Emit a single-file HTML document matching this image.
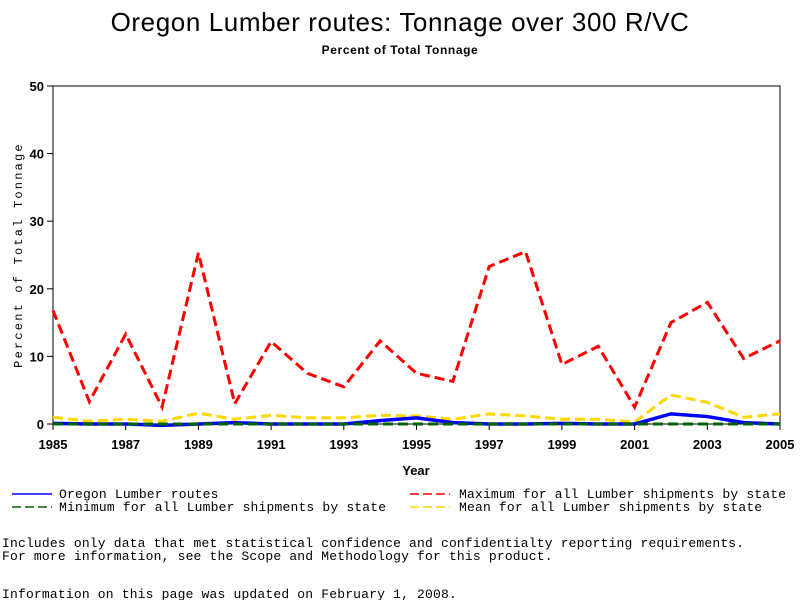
<!DOCTYPE html>
<html><head><meta charset="utf-8"><style>
body{margin:0;background:#fff;width:800px;height:600px;overflow:hidden}
svg text{font-family:"Liberation Sans",sans-serif}
.m{font-family:"Liberation Mono",monospace;letter-spacing:0.18px}
</style></head><body>
<svg id="c" width="800" height="600" xmlns="http://www.w3.org/2000/svg">
<text x="400" y="31" font-size="26" text-anchor="middle" letter-spacing="0.6">Oregon Lumber routes: Tonnage over 300 R/VC</text>
<text x="400" y="54" font-size="12" font-weight="bold" text-anchor="middle" letter-spacing="0.6">Percent of Total Tonnage</text>
<rect x="53" y="86" width="727" height="338" fill="none" stroke="#000" stroke-width="1"/>
<g id="axes"></g>
<g id="series"></g>
<text x="416" y="475" font-size="13" font-weight="bold" text-anchor="middle">Year</text>
<text transform="translate(22,255) rotate(-90)" font-size="12" class="m" text-anchor="middle" style="letter-spacing:2.2px">Percent of Total Tonnage</text>
<g>
<g><line x1="12" y1="494" x2="52" y2="494" stroke="#00f" stroke-width="1.5"/><text x="59" y="498" font-size="13" class="m">Oregon Lumber routes</text></g>
<g><line x1="12" y1="507" x2="52" y2="507" stroke="#006400" stroke-width="1.5" stroke-dasharray="9,4"/><text x="59" y="511" font-size="13" class="m">Minimum for all Lumber shipments by state</text></g>
<g><line x1="410" y1="494" x2="450" y2="494" stroke="#f00" stroke-width="1.5" stroke-dasharray="9,4"/><text x="459" y="498" font-size="13" class="m">Maximum for all Lumber shipments by state</text></g>
<g><line x1="410" y1="507" x2="450" y2="507" stroke="#ffd700" stroke-width="1.5" stroke-dasharray="9,4"/><text x="459" y="511" font-size="13" class="m">Mean for all Lumber shipments by state</text></g>
</g>
<text x="2" y="547" font-size="13" class="m">Includes only data that met statistical confidence and confidentialty reporting requirements.</text>
<text x="2" y="560" font-size="13" class="m">For more information, see the Scope and Methodology for this product.</text>
<text x="2" y="598" font-size="13" class="m">Information on this page was updated on February 1, 2008.</text>
</svg>
<script>
const years=[1985,1986,1987,1988,1989,1990,1991,1992,1993,1994,1995,1996,1997,1998,1999,2000,2001,2002,2003,2004,2005];
const maxVals=[16.8,3.3,13.3,2.5,25.3,3.0,12.2,7.5,5.5,12.3,7.5,6.3,23.3,25.5,8.8,11.5,2.5,15,18,9.7,12.3];
const meanVals=[1.0,0.4,0.7,0.4,1.6,0.7,1.3,0.9,0.9,1.3,1.2,0.7,1.5,1.2,0.7,0.7,0.3,4.3,3.2,1.0,1.5];
const oregonVals=[0.1,0,0,-0.2,0,0.2,0,0,0,0.5,0.9,0.2,0,0,0.1,0,0,1.5,1.1,0.2,0];
const minVals=[0,0,0,0,0,0,0,0,0,0,0,0,0,0,0,0,0,0,0,0,0];
const yTicks=[0,10,20,30,40,50];
const xTicks=[1985,1987,1989,1991,1993,1995,1997,1999,2001,2003,2005];
const X=v=>53+(v-1985)*727/20, Y=v=>424-v*338/50;
const NS="http://www.w3.org/2000/svg";
const axes=document.getElementById('axes'), ser=document.getElementById('series');
function mk(tag,attrs,parent){const e=document.createElementNS(NS,tag);for(const k in attrs)e.setAttribute(k,attrs[k]);parent.appendChild(e);return e;}
yTicks.forEach(t=>{
  const l=mk('line',{x1:47,x2:53,y1:Y(t),y2:Y(t),stroke:'#000'},axes);
  
  
  const tx=mk('text',{x:44,y:Y(t)+5,'font-size':13,'font-weight':'bold','text-anchor':'end'},axes);
  tx.textContent=t;
  
  
});
xTicks.forEach(t=>{
  const l=mk('line',{x1:X(t),x2:X(t),y1:424,y2:430,stroke:'#000'},axes);
  
  
  const tx=mk('text',{x:X(t),y:449,'font-size':13,'font-weight':'bold','text-anchor':'middle'},axes);
  tx.textContent=t;
  
  
});
function line(vals,color,dash,w,name){
  const p=mk('polyline',{points:vals.map((v,i)=>X(years[i])+','+Y(v)).join(' '),fill:'none',stroke:color,'stroke-width':w,'stroke-dasharray':dash},ser);
  
  
}
line(meanVals,'#ffd700','10,5',3,'mean-line');
line(maxVals,'#f00','10,5',3,'max-line');
line(oregonVals,'#00f','none',3.5,'oregon-line');
line(minVals,'#006400','10,5',3,'min-line');
</script>
</body></html>
